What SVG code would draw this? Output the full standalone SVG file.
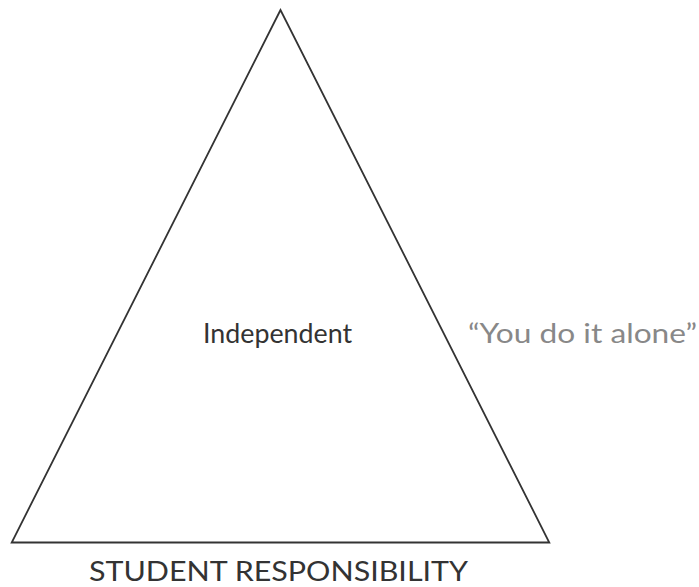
<svg xmlns="http://www.w3.org/2000/svg" width="699" height="587" viewBox="0 0 699 587">
<style>
.t{font-family:Lato,"Open Sans","Liberation Sans",sans-serif;}
</style>
<rect width="699" height="587" fill="#fff"/>
<g id="triangle">
<polygon points="280.5,10 11.7,542.5 549.3,542.5" fill="none" stroke="#333" stroke-width="1.8" stroke-linejoin="miter"/>
</g>
<g id="connectors"></g>
<g id="independent">
<text class="t" x="203" y="343" font-size="27" fill="#333" textLength="149" lengthAdjust="spacingAndGlyphs">Independent</text>
</g>
<g id="quote">
<text class="t" x="468" y="343" font-size="27" fill="#888" textLength="229" lengthAdjust="spacingAndGlyphs">“You do it alone”</text>
</g>
<g id="label">
<text class="t" x="89" y="581" font-size="27" fill="#333" textLength="379" lengthAdjust="spacingAndGlyphs">STUDENT RESPONSIBILITY</text>
</g>
</svg>
